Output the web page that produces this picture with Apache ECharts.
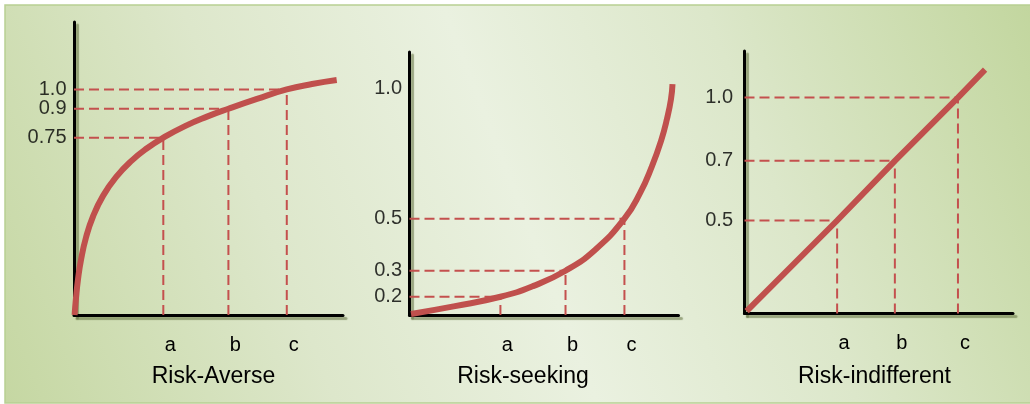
<!DOCTYPE html>
<html>
<head>
<meta charset="utf-8">
<title>Utility curves and attitudes to risk</title>
<script src="https://cdn.jsdelivr.net/npm/echarts@6/dist/echarts.min.js"></script>
<style>
  html, body { margin: 0; padding: 0; background: #ffffff; }
  #chart { width: 1030px; height: 404px; }
</style>
</head>
<body>
<div id="chart"></div>
<script>
// Outcome markers shared by all three panels
const outcomeNames = ['a', 'b', 'c'];

// Risk-averse: concave utility curve
const averseTitle = 'Risk-Averse';
const averseTicks = [1.0, 0.9, 0.75];
const averseOutcomeX = [33.2, 57.4, 79.1];
const averseUtility = [0.75, 0.9, 1.0];
const averseCurve = [
  [0.22, -0.17], [0.74, -0.082], [1.49, 0.015], [2.6, 0.116], [4.46, 0.232],
  [7.06, 0.341], [10.78, 0.448], [15.61, 0.545], [21.56, 0.632], [27.14, 0.695],
  [33.2, 0.75], [41.26, 0.81], [49.44, 0.859], [57.4, 0.9], [68.03, 0.951],
  [79.1, 1.0], [88.48, 1.028], [97.66, 1.049]
];

// Risk-seeking: convex utility curve
const seekingTitle = 'Risk-seeking';
const seekingTicks = [1.0, 0.5, 0.3, 0.2];
const seekingOutcomeX = [33.8, 58.0, 79.9];
const seekingUtility = [0.2, 0.3, 0.5];
const seekingCurve = [
  [0.56, 0.134], [16.91, 0.164], [33.8, 0.2], [45.91, 0.241], [58.0, 0.3],
  [68.96, 0.38], [79.9, 0.5], [85.69, 0.598], [90.15, 0.702], [93.49, 0.798],
  [95.72, 0.883], [97.21, 0.959], [97.77, 1.017]
];

// Risk-indifferent: straight utility line
const neutralTitle = 'Risk-indifferent';
const neutralTicks = [1.0, 0.7, 0.5];
const neutralOutcomeX = [34.5, 56.0, 79.5];
const neutralUtility = [0.5, 0.7, 1.0];
const neutralCurve = [[0.8, 0.3], [34.5, 0.5], [56.0, 0.7], [79.5, 1.0], [89.6, 1.17]];

const FONT = '"Liberation Sans", Arial, sans-serif';
const RED = '#c0504d';
const GUIDE = '#c4504e';

const panels = [
  {
    title: averseTitle, ticks: averseTicks, xs: averseOutcomeX, us: averseUtility, curve: averseCurve,
    grid: { left: 74, top: 22, width: 269, height: 293 },
    yAxis: { type: 'value', min: -0.17, max: 1.35 },
    titleX: 213.5, tickGap: 7
  },
  {
    title: seekingTitle, ticks: seekingTicks, xs: seekingOutcomeX, us: seekingUtility, curve: seekingCurve,
    grid: { left: 409.5, top: 52, width: 269, height: 263 },
    yAxis: { type: 'value', min: 0.13, max: 1.14 },
    titleX: 523, tickGap: 7
  },
  {
    title: neutralTitle, ticks: neutralTicks, xs: neutralOutcomeX, us: neutralUtility, curve: neutralCurve,
    grid: { left: 744.5, top: 51, width: 268.5, height: 262.5 },
    yAxis: { type: 'log', logBase: 10, min: 0.296, max: 1.3 },
    titleX: 874.5, tickGap: 11
  }
];

const axisLineStyle = {
  color: '#000000',
  width: 3,
  shadowColor: 'rgba(95, 110, 60, 0.55)',
  shadowBlur: 1,
  shadowOffsetX: 3,
  shadowOffsetY: 3
};

function tickText(v) {
  const s = String(v);
  return s.indexOf('.') >= 0 ? s : v.toFixed(1);
}

function outcomeName(xs, v) {
  const i = xs.findIndex(x => Math.abs(x - v) < 1e-6);
  return i >= 0 ? outcomeNames[i] : '';
}

const series = [];
panels.forEach((p, i) => {
  const yMin = p.yAxis.min;
  // dashed guides: across from the utility axis, and up from the outcome axis
  p.xs.forEach((x, k) => {
    const u = p.us[k];
    [[[0, u], [x, u]], [[x, yMin], [x, u]]].forEach(seg => {
      series.push({
        type: 'line', xAxisIndex: i, yAxisIndex: i, data: seg,
        symbol: 'none', silent: true, z: 3,
        lineStyle: { color: GUIDE, width: 2, type: [10, 5] }
      });
    });
  });
  // utility curve
  series.push({
    type: 'line', xAxisIndex: i, yAxisIndex: i, data: p.curve,
    symbol: 'none', silent: true, smooth: i === 2 ? false : 0.5, z: 6,
    lineStyle: { color: RED, width: 6, cap: 'butt' }
  });
  // utility tick labels
  series.push({
    type: 'scatter', xAxisIndex: i, yAxisIndex: i, clip: false, silent: true,
    symbolSize: 1, itemStyle: { color: 'rgba(0,0,0,0)' }, z: 7,
    data: p.ticks.map(v => [0, v]),
    label: {
      show: true, position: 'left', distance: p.tickGap,
      formatter: d => tickText(d.value[1]),
      color: '#000000', fontSize: 20, fontFamily: FONT
    }
  });
});

const option = {
  animation: false,
  backgroundColor: '#ffffff',
  graphic: [
    {
      type: 'rect', z: -100, silent: true,
      shape: { x: 5, y: 5, width: 1030, height: 398 },
      style: {
        fill: new echarts.graphic.LinearGradient(1, 0, 0, 1, [
          { offset: 0, color: '#c2d69e' },
          { offset: 0.28, color: '#dce7ca' },
          { offset: 0.5, color: '#eaf1e0' },
          { offset: 0.72, color: '#dde7cb' },
          { offset: 1, color: '#c5d7a2' }
        ]),
        stroke: '#b8d093',
        lineWidth: 1.5
      }
    }
  ].concat(panels.map(p => ({
    type: 'text', z: 100, silent: true,
    x: p.titleX, y: 377,
    style: {
      text: p.title, fill: '#000000',
      font: '23px ' + FONT,
      align: 'center', verticalAlign: 'middle',
      textAlign: 'center', textVerticalAlign: 'middle'
    }
  }))),
  grid: panels.map(p => Object.assign({ containLabel: false }, p.grid)),
  xAxis: panels.map((p, i) => ({
    type: 'value', gridIndex: i, min: 0, max: 100,
    axisLine: { show: true, onZero: false, lineStyle: axisLineStyle },
    axisTick: { show: false },
    splitLine: { show: false },
    axisLabel: {
      show: true,
      customValues: p.xs,
      formatter: v => outcomeName(p.xs, v),
      margin: 20,
      padding: [0, 0, 0, 14],
      color: '#000000', fontSize: 20, fontFamily: FONT
    }
  })),
  yAxis: panels.map((p, i) => Object.assign({}, p.yAxis, {
    gridIndex: i,
    axisLine: { show: true, onZero: false, lineStyle: axisLineStyle },
    axisTick: { show: false },
    axisLabel: { show: false },
    splitLine: { show: false }
  })),
  series: series
};

const chart = echarts.init(document.getElementById('chart'), null, { renderer: 'canvas' });
chart.setOption(option);
</script>
</body>
</html>
